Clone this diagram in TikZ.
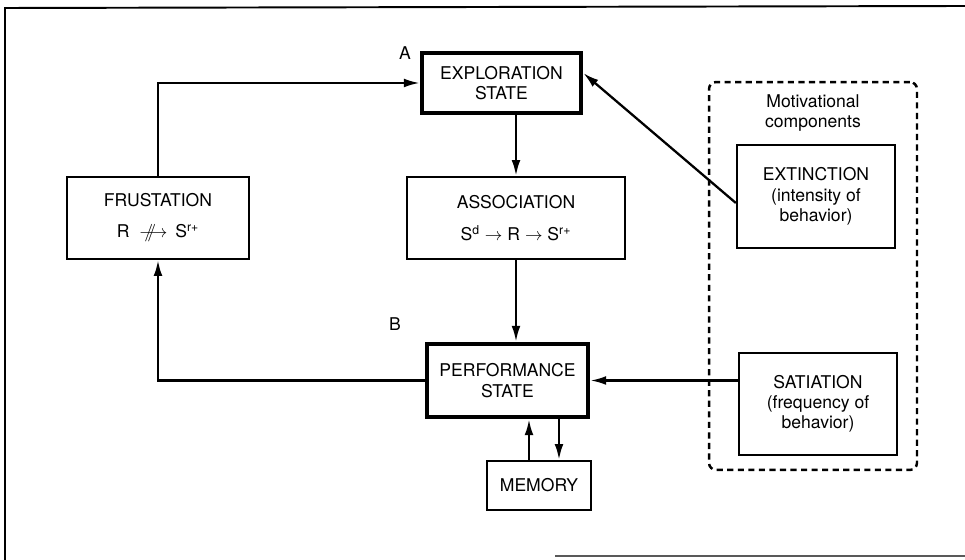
\documentclass[tikz,border=0pt]{standalone}
\usepackage{fontspec}
\setmainfont{TeX Gyre Heros}
\usetikzlibrary{arrows.meta}

\begin{document}
\begin{tikzpicture}[x=0.02cm,y=-0.02cm,
        box/.style={draw,line width=1.3pt,inner sep=0pt,align=center,font=\fontsize{10}{11.5}\selectfont},
        statebox/.style={box,line width=2.6pt},
        arr/.style={line width=1.3pt,-{Latex[length=9pt,width=5pt]}}]
        \useasboundingbox (0,0) rectangle (965,560);
        % frame of the figure
        \draw[line width=1.1pt] (965,6) -- (5,8) -- (5,560);
        \draw[line width=1.1pt,gray!70!black] (555,556) -- (965,556);
        \node[statebox,minimum width=3.18cm,minimum height=1.2cm] at (501.5,83) (expl) {EXPLORATION\\STATE};
        \node[box,minimum width=4.36cm,minimum height=1.64cm] at (516,218) (assoc) {ASSOCIATION\\[7pt]S\textsuperscript{d} $\rightarrow$ R $\rightarrow$ S\textsuperscript{r+}};
        \node[box,minimum width=3.64cm,minimum height=1.64cm] at (158,218) (frust) {FRUSTATION\\[6pt]R\; \rlap{\hspace{0.3em}$/\!\!/$}$\longrightarrow$\, S\textsuperscript{r+}};
        \node[statebox,minimum width=3.22cm,minimum height=1.46cm] at (507.5,380.5) (perf) {PERFORMANCE\\STATE};
        \node[box,minimum width=2.08cm,minimum height=0.98cm] at (539,485.5) (mem) {MEMORY};
        \node[draw,line width=1.4pt,dash pattern=on 3.5pt off 2.5pt,rounded corners=4pt,minimum width=4.16cm,minimum height=7.76cm] at (813,276) (motiv) {};
        \node[align=center,font=\fontsize{10}{11.5}\selectfont] at (813,113) (motivlabel) {Motivational\\components};
        \node[box,minimum width=3.16cm,minimum height=2.06cm] at (816,196.5) (ext) {EXTINCTION\\(intensity of\\behavior)};
        \node[box,minimum width=3.16cm,minimum height=2.04cm] at (818,404) (sat) {SATIATION\\(frequency of\\behavior)};
        \node[font=\fontsize{10}{12}\selectfont] at (405,53) (labA) {A};
        \node[font=\fontsize{10}{12}\selectfont] at (395,324) (labB) {B};
        \draw[arr] (frust.north) |- (expl.west);
        \draw[arr] ([yshift=-0.13cm]ext.west) -- ([yshift=0.2cm]expl.east);
        \draw[arr] (expl.south -| assoc.north) -- (assoc.north);
        \draw[arr] (assoc.south) -- (assoc.south |- perf.north);
        \draw[arr] (perf.west) -| (frust.south);
        \draw[arr] (sat.west |- perf.east) -- (perf.east);
        \draw[arr] ([xshift=-0.2cm]mem.north) -- ([xshift=-0.2cm]mem.north |- perf.south);
        \draw[arr] ([xshift=0.4cm]mem.north |- perf.south) -- ([xshift=0.4cm]mem.north);
    \end{tikzpicture}
\end{document}
